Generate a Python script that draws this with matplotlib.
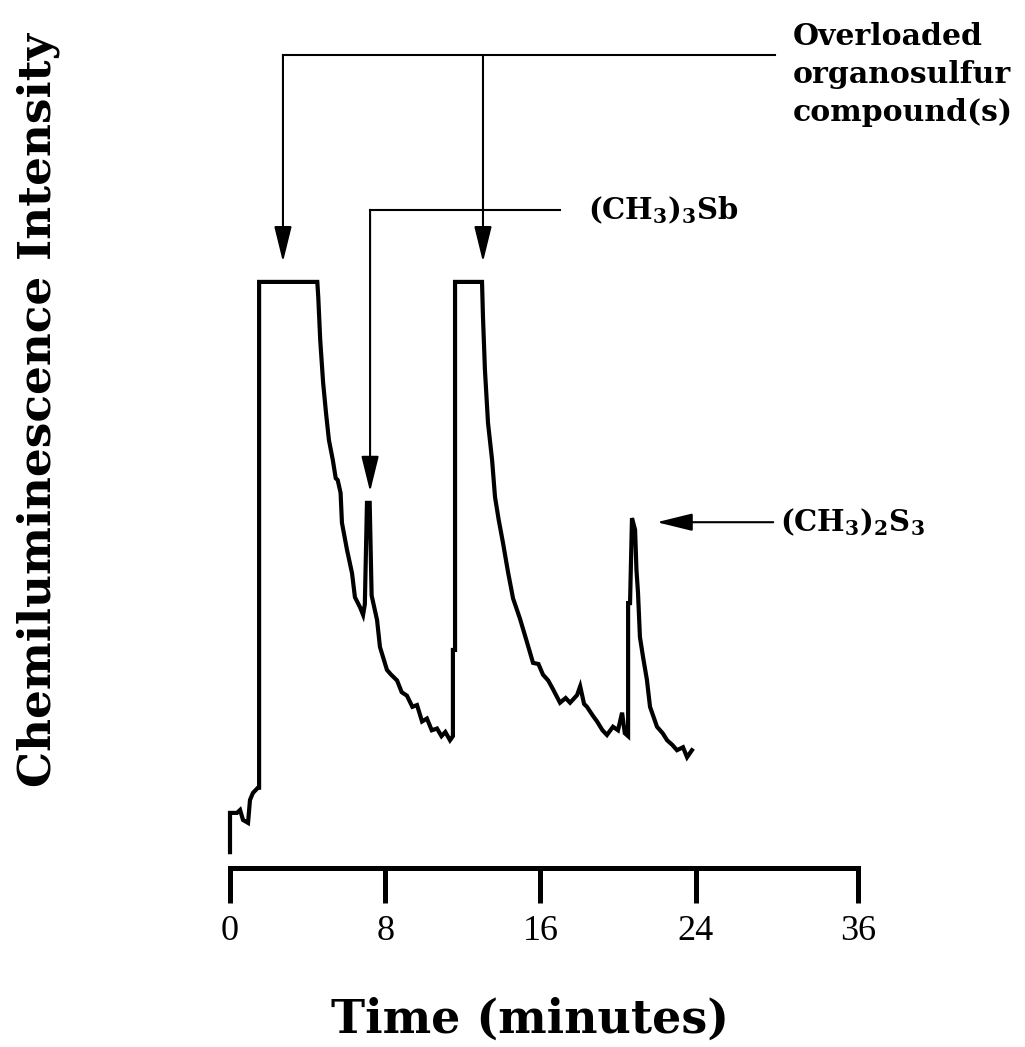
import matplotlib
matplotlib.use("Agg")
import matplotlib.pyplot as plt

plt.rcParams.update({
    "font.family": "DejaVu Serif",
    "mathtext.fontset": "custom",
    "mathtext.rm": "DejaVu Serif:bold",
})

# chromatogram trace (time in minutes, intensity in arbitrary units, 100 = overload)
time_min = [0.0, 0.0, 0.36, 0.52, 0.67, 0.93, 1.03, 1.18, 1.44, 1.50, 1.50,
            4.50, 4.55, 4.65, 4.80, 4.95, 5.10, 5.30, 5.45, 5.55, 5.70, 5.77,
            6.03, 6.29, 6.44, 6.70, 6.86, 6.95, 7.06, 7.20, 7.30, 7.58, 7.73,
            8.09, 8.30, 8.61, 8.85, 9.12, 9.40, 9.64, 9.90, 10.15, 10.40, 10.67,
            10.90, 11.10, 11.34, 11.49, 11.49, 11.60, 11.60, 12.99, 13.04, 13.14,
            13.30, 13.51, 13.66, 13.85, 14.07, 14.33, 14.59, 14.95, 15.31, 15.62,
            15.90, 16.13, 16.40, 16.65, 17.01, 17.30, 17.53, 17.89, 18.05, 18.25,
            18.40, 18.70, 18.92, 19.20, 19.43, 19.74, 20.00, 20.21, 20.35, 20.52,
            20.52, 20.62, 20.72, 20.88, 20.95, 21.03, 21.13, 21.29, 21.49, 21.65,
            22.01, 22.30, 22.53, 22.80, 23.04, 23.35, 23.56, 23.81]
intensity = [2.7, 9.4, 9.4, 9.9, 8.2, 7.7, 11.6, 12.8, 13.7, 13.7, 100.0,
             100.0, 97.4, 90.1, 82.8, 77.6, 73.0, 69.6, 66.5, 66.2, 64.0, 58.9,
             54.3, 50.3, 46.2, 44.5, 43.2, 45.0, 62.3, 62.3, 46.5, 42.3, 37.7,
             33.8, 33.0, 32.0, 30.0, 29.4, 27.5, 27.8, 25.0, 25.5, 23.5, 23.8,
             22.5, 23.2, 21.8, 22.5, 37.2, 37.2, 100.0, 100.0, 94.0, 85.0,
             75.9, 69.6, 63.3, 59.4, 55.5, 50.5, 46.0, 42.5, 38.5, 35.0,
             34.8, 33.0, 32.0, 30.5, 28.2, 29.0, 28.2, 29.5, 31.0, 28.0,
             27.5, 26.0, 25.0, 23.5, 22.7, 24.1, 23.5, 26.5, 23.0, 22.5,
             45.2, 45.2, 59.7, 57.7, 50.9, 47.0, 39.4, 36.0, 32.1, 27.5,
             24.1, 23.0, 21.8, 21.0, 20.1, 20.6, 18.9, 20.1]

tick_pos = [0, 8, 16, 24, 32.37]
tick_labels = ["0", "8", "16", "24", "36"]

fig = plt.figure(figsize=(10.25, 10.47), dpi=100)
ax = fig.add_axes([230 / 1025, 179 / 1047, 628 / 1025, 868 / 1047])
ax.set_xlim(0, 32.37)
ax.set_ylim(0, 148.1)

ax.plot(time_min, intensity, color="black", lw=3, solid_joinstyle="miter", clip_on=False)

for s in ["left", "right", "top"]:
    ax.spines[s].set_visible(False)
ax.spines["bottom"].set_linewidth(3.6)
ax.spines["bottom"].set_capstyle("projecting")
ax.set_yticks([])
ax.set_xticks(tick_pos)
ax.set_xticklabels(tick_labels, fontfamily="Liberation Serif", fontsize=26)
ax.tick_params(axis="x", direction="out", length=25, width=3.6, pad=9)

fig.text(530 / 1025, 1 - 1020 / 1047, "Time (minutes)", fontsize=33, fontweight="bold",
         ha="center", va="center")
fig.text(38 / 1025, 1 - 410 / 1047, "Chemiluminescence Intensity", fontsize=32.7,
         fontweight="bold", rotation=90, ha="center", va="center")

# annotations
arr = dict(arrowstyle="-|>,head_length=1.1,head_width=0.27", mutation_scale=20,
           lw=1.5, color="black", shrinkA=0, shrinkB=0)
top_y = 138.7
ax.plot([2.73, 28.1], [top_y, top_y], color="black", lw=1.5, clip_on=False)
ax.annotate("", xy=(2.73, 103.4), xytext=(2.73, top_y), arrowprops=arr)
ax.annotate("", xy=(13.04, 103.4), xytext=(13.04, top_y), arrowprops=arr)
ax.text(29.0, 144.4, "Overloaded\norganosulfur\ncompound(s)", fontsize=21.5,
        fontweight="bold", ha="left", va="top", linespacing=1.4)

sb_y = 112.3
ax.plot([7.22, 17.0], [sb_y, sb_y], color="black", lw=1.5)
ax.annotate("", xy=(7.22, 64.2), xytext=(7.22, sb_y), arrowprops=arr)
ax.text(18.45, sb_y, r"(CH$_3$)$_3$Sb", fontsize=21, fontweight="bold",
        ha="left", va="center")

ax.annotate("", xy=(22.0, 59.0), xytext=(28.0, 59.0), arrowprops=arr)
ax.text(28.35, 59.0, r"(CH$_3$)$_2$S$_3$", fontsize=21, fontweight="bold",
        ha="left", va="center", clip_on=False)

fig.savefig("out.png", dpi=100)
